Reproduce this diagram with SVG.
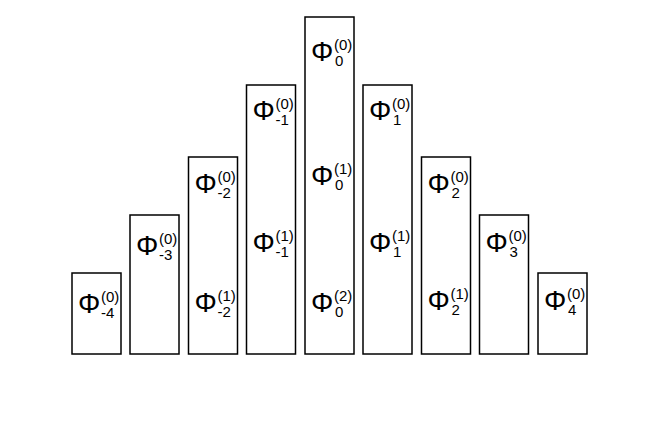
<svg xmlns="http://www.w3.org/2000/svg" width="664" height="448" viewBox="0 0 664 448">
<style>
rect.bar{fill:#fff;stroke:#000;stroke-width:1.5}
text{font-family:"Liberation Sans",Arial,sans-serif;fill:#000}
.phi{font-size:28px}
.s{font-size:15px}
</style>
<rect width="664" height="448" fill="#fff"/>
<g id="bar-m4"><rect class="bar" x="72" y="273" width="49" height="81"/>
<text class="phi" x="78" y="313">Φ</text><text class="s" x="101" y="302">(0)</text><text class="s" x="101" y="318">-4</text></g>
<g id="bar-m3"><rect class="bar" x="130" y="215" width="49" height="139"/>
<text class="phi" x="136" y="255">Φ</text><text class="s" x="159" y="244">(0)</text><text class="s" x="159" y="260">-3</text></g>
<g id="bar-m2"><rect class="bar" x="188.5" y="157" width="49" height="197"/>
<text class="phi" x="194.5" y="193">Φ</text><text class="s" x="217.5" y="182">(0)</text><text class="s" x="217.5" y="198">-2</text>
<text class="phi" x="194.5" y="312">Φ</text><text class="s" x="217.5" y="301">(1)</text><text class="s" x="217.5" y="317">-2</text></g>
<g id="bar-m1"><rect class="bar" x="246.5" y="85" width="49" height="269"/>
<text class="phi" x="252.5" y="120">Φ</text><text class="s" x="275.5" y="109">(0)</text><text class="s" x="275.5" y="125">-1</text>
<text class="phi" x="252.5" y="252">Φ</text><text class="s" x="275.5" y="241">(1)</text><text class="s" x="275.5" y="257">-1</text></g>
<g id="bar-0"><rect class="bar" x="305" y="17" width="49" height="337"/>
<text class="phi" x="311" y="61">Φ</text><text class="s" x="334" y="50">(0)</text><text class="s" x="335" y="66">0</text>
<text class="phi" x="311" y="185">Φ</text><text class="s" x="334" y="174">(1)</text><text class="s" x="335" y="190">0</text>
<text class="phi" x="311" y="312">Φ</text><text class="s" x="334" y="301">(2)</text><text class="s" x="335" y="317">0</text></g>
<g id="bar-1"><rect class="bar" x="363" y="85" width="49" height="269"/>
<text class="phi" x="369" y="120">Φ</text><text class="s" x="392" y="109">(0)</text><text class="s" x="393" y="125">1</text>
<text class="phi" x="369" y="252">Φ</text><text class="s" x="392" y="241">(1)</text><text class="s" x="393" y="257">1</text></g>
<g id="bar-2"><rect class="bar" x="421.5" y="157" width="49" height="197"/>
<text class="phi" x="427.5" y="193">Φ</text><text class="s" x="450.5" y="182">(0)</text><text class="s" x="451.5" y="198">2</text>
<text class="phi" x="427.5" y="310">Φ</text><text class="s" x="450.5" y="299">(1)</text><text class="s" x="451.5" y="315">2</text></g>
<g id="bar-3"><rect class="bar" x="479.5" y="215" width="49" height="139"/>
<text class="phi" x="485.5" y="252">Φ</text><text class="s" x="508.5" y="241">(0)</text><text class="s" x="509.5" y="257">3</text></g>
<g id="bar-4"><rect class="bar" x="538" y="273" width="49" height="81"/>
<text class="phi" x="544" y="310">Φ</text><text class="s" x="567" y="299">(0)</text><text class="s" x="568" y="315">4</text></g>
<g id="connectors"/>
</svg>
